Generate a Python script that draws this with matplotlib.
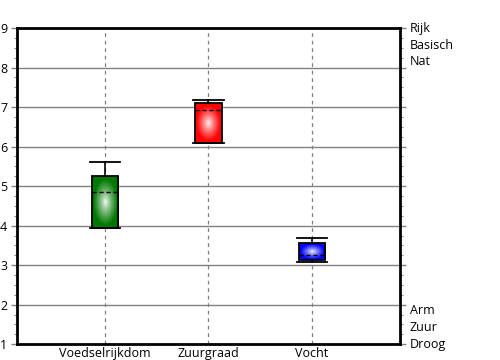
import numpy as np
import matplotlib
matplotlib.use("Agg")
import matplotlib.pyplot as plt
from matplotlib.colors import to_rgb

plt.rcParams["font.family"] = ["Open Sans", "DejaVu Sans"]

categories = ["Voedselrijkdom", "Zuurgraad", "Vocht"]
q1 = [3.95, 6.1, 3.12]
q3 = [5.25, 7.1, 3.55]
whis_lo = [3.95, 6.1, 3.07]
whis_hi = [5.6, 7.18, 3.68]
means = [4.85, 6.93, 3.25]
box_colors = ["#007800", "#ff0000", "#0000ff"]
top_labels = ["Rijk", "Basisch", "Nat"]
top_pos = [9.0, 8.57, 8.15]
bottom_labels = ["Arm", "Zuur", "Droog"]
bottom_pos = [1.86, 1.43, 1.0]

fig = plt.figure(figsize=(5, 3.6), dpi=100)
ax = fig.add_axes([0.034, 0.044, 0.766, 0.878])

positions = np.arange(1, len(categories) + 1)
box_w = 0.26

stats = []
for i in range(len(categories)):
    stats.append(dict(med=means[i], q1=q1[i], q3=q3[i],
                      whislo=whis_lo[i], whishi=whis_hi[i], fliers=[]))

ax.bxp(stats, positions=positions, widths=box_w, capwidths=0.29,
       showfliers=False, patch_artist=True,
       boxprops=dict(facecolor="none", edgecolor="black", linewidth=1.3, zorder=4),
       whiskerprops=dict(color="black", linewidth=1.2, zorder=3),
       capprops=dict(color="black", linewidth=1.3, zorder=4),
       medianprops=dict(color="black", linewidth=1.0, linestyle=(0, (3, 2)), zorder=5))

# radial gradient fill of each box
n = 120
yy, xx = np.mgrid[-1:1:n * 1j, -1:1:n * 1j]
r = np.sqrt(xx ** 2 + yy ** 2)
t = np.clip(r / 0.9, 0, 1) ** 0.8
for i, c in enumerate(box_colors):
    base = np.array(to_rgb(c))
    img = np.ones((n, n, 3)) * (1 - t[..., None]) + base * t[..., None]
    ax.imshow(img, extent=[positions[i] - box_w / 2, positions[i] + box_w / 2, q1[i], q3[i]],
              aspect="auto", zorder=2, interpolation="bilinear")

ax.set_xlim(0.15, 3.85)
ax.set_ylim(1, 9)
ax.set_xticks(positions)
ax.set_xticklabels(categories, fontsize=9)
ax.tick_params(axis="x", length=0, pad=2)
ax.set_yticks(range(1, 10))
ax.set_yticks(np.arange(1, 9.01, 0.25), minor=True)
ax.tick_params(axis="y", which="major", direction="out", length=4, width=1, color="#808080",
               labelsize=9, pad=3, left=True, right=True)
ax.tick_params(axis="y", which="minor", direction="out", length=2, width=0.6, color="#707070",
               left=True, right=True)

ax.grid(axis="y", color="#808080", linewidth=1.0, zorder=1)
ax.grid(axis="x", color="#808080", linewidth=0.9, linestyle=(0, (3, 3)), zorder=1)
ax.set_axisbelow(True)
for s in ax.spines.values():
    s.set_linewidth(2)

for lab, y in zip(top_labels + bottom_labels, top_pos + bottom_pos):
    ax.annotate(lab, xy=(1.0, y), xycoords=("axes fraction", "data"),
                xytext=(7, 0), textcoords="offset points", va="center", ha="left",
                fontsize=9)

fig.savefig("out.png", dpi=100)
